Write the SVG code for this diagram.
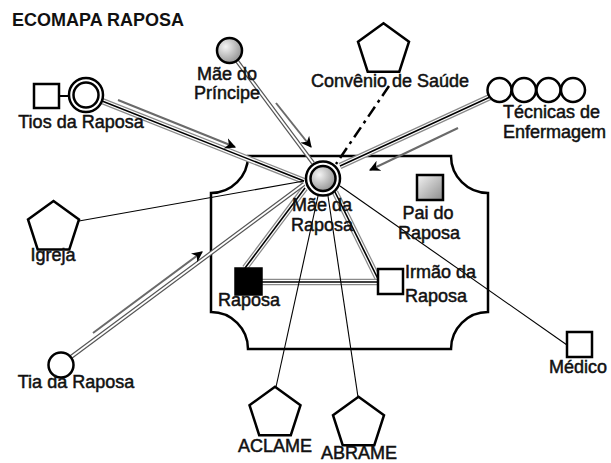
<svg xmlns="http://www.w3.org/2000/svg" xmlns:xlink="http://www.w3.org/1999/xlink" width="611" height="463" viewBox="0 0 611 463">
<style>
text{font-family:"Liberation Sans",Arial,sans-serif;font-size:18px;fill:#111;stroke:#111;stroke-width:0.5}
.title{font-weight:bold;font-size:18px;stroke:none}
.c{text-anchor:middle}
.shape{fill:#fff;stroke:#000;stroke-width:2.5}
.g1{fill:none;stroke:#8a8a8a;stroke-width:6.5}
.g2{fill:none;stroke:#fff;stroke-width:4}
.g3{fill:none;stroke:#000;stroke-width:1.6}
.d1{fill:none;stroke:#555;stroke-width:4.2}
.d2{fill:none;stroke:#fff;stroke-width:1.8}
.thin{fill:none;stroke:#000;stroke-width:1.1}
.arr{fill:none;stroke:#6a6a6a;stroke-width:2;marker-end:url(#ah)}
.dash{fill:none;stroke:#000;stroke-width:2.5;stroke-dasharray:12 5 3 5}
</style>
<defs>
<radialGradient id="gr" cx="0.35" cy="0.35" r="0.75">
<stop offset="0" stop-color="#f4f4f4"/>
<stop offset="1" stop-color="#8c8c8c"/>
</radialGradient>
<linearGradient id="gl" x1="0" y1="0" x2="1" y2="1">
<stop offset="0" stop-color="#f4f4f4"/>
<stop offset="1" stop-color="#8c8c8c"/>
</linearGradient>
<polygon id="pent" points="0,-26.8 25.5,-8.3 15.8,21.7 -15.8,21.7 -25.5,-8.3"/>
<marker id="ah" viewBox="0 0 10 10" refX="9" refY="5" markerWidth="5.5" markerHeight="5.5" orient="auto" markerUnits="strokeWidth">
<path d="M0,0 L10,5 L0,10 L3,5 Z" fill="#000"/>
</marker>
<path id="pTios" d="M102,101 L304,181"/>
<path id="pTec" d="M490,97 L340,166"/>
<path id="pRap" d="M305,188 L245,268"/>
<path id="pIrm" d="M335,192 L379,281"/>
<path id="pRI" d="M262,282 L378,282"/>
<path id="pPri" d="M237,61 L313,163"/>
<path id="pTia" d="M71,357 L304,184"/>
</defs>
<g id="household">
<path class="shape" style="fill:none" d="M248,156 L451,156 A37,37 0 0 0 488,193 L488,312 A37,37 0 0 0 451,349 L248,349 A37,37 0 0 0 211,312 L211,193 A37,37 0 0 0 248,156 Z"/>
</g>
<g id="connectors">
<use href="#pTios" class="g1"/><use href="#pTios" class="g2"/><use href="#pTios" class="g3"/>
<use href="#pTec" class="g1"/><use href="#pTec" class="g2"/><use href="#pTec" class="g3"/>
<use href="#pRap" class="g1"/><use href="#pRap" class="g2"/><use href="#pRap" class="g3"/>
<use href="#pIrm" class="g1"/><use href="#pIrm" class="g2"/><use href="#pIrm" class="g3"/>
<use href="#pRI" class="g1"/><use href="#pRI" class="g2"/><use href="#pRI" class="g3"/>
<use href="#pPri" class="d1"/><use href="#pPri" class="d2"/>
<use href="#pTia" class="d1"/><use href="#pTia" class="d2"/>
<line class="thin" x1="59" y1="96" x2="69" y2="96" style="stroke-width:2"/>
<line class="thin" x1="79" y1="221" x2="304" y2="181"/>
<line class="thin" x1="318" y1="196" x2="276" y2="387"/>
<line class="thin" x1="328" y1="196" x2="358" y2="397"/>
<line class="thin" x1="340" y1="186" x2="567" y2="345"/>
<line class="dash" x1="389" y1="86" x2="336" y2="164"/>
<line class="arr" x1="118" y1="100" x2="235" y2="147"/>
<line class="arr" x1="276" y1="103" x2="311" y2="147"/>
<line class="arr" x1="458" y1="128" x2="370" y2="170"/>
<line class="arr" x1="93" y1="333" x2="202" y2="252"/>
</g>
<text class="title" x="12" y="26">ECOMAPA RAPOSA</text>
<g id="tios">
<rect class="shape" x="34" y="84" width="25" height="24"/>
<circle class="shape" cx="86" cy="95" r="17"/>
<circle class="shape" cx="86" cy="95" r="12.5"/>
<text class="c" x="81" y="128">Tios da Raposa</text>
</g>
<g id="mae-principe">
<circle class="shape" cx="229.5" cy="50.5" r="12.5" style="fill:url(#gr)"/>
<text class="c" x="227" y="80">Mãe do</text>
<text class="c" x="227" y="99">Príncipe</text>
</g>
<g id="convenio">
<use href="#pent" class="shape" x="383.5" y="50"/>
<text class="c" x="390" y="87">Convênio de Saúde</text>
</g>
<g id="tecnicas">
<circle class="shape" cx="499.5" cy="90" r="12"/>
<circle class="shape" cx="524" cy="90" r="12"/>
<circle class="shape" cx="548.5" cy="90" r="12"/>
<circle class="shape" cx="573" cy="90" r="12"/>
<text x="503" y="118">Técnicas de</text>
<text x="503" y="138">Enfermagem</text>
</g>
<g id="mae-raposa">
<circle class="shape" cx="323" cy="178.5" r="17"/>
<circle class="shape" cx="323" cy="178.5" r="12.5" style="fill:url(#gr)"/>
<text class="c" x="322" y="211">Mãe da</text>
<text class="c" x="322" y="231">Raposa</text>
</g>
<g id="pai">
<rect class="shape" x="417" y="175" width="26" height="25" style="fill:url(#gl)"/>
<text class="c" x="428" y="219">Pai do</text>
<text class="c" x="429" y="239">Raposa</text>
</g>
<g id="raposa">
<rect x="235" y="268" width="27" height="27" fill="#000" stroke="#000" stroke-width="1.5"/>
<text class="c" x="249" y="306">Raposa</text>
</g>
<g id="irmao">
<rect class="shape" x="378" y="269" width="25" height="25"/>
<text x="405" y="278">Irmão da</text>
<text x="405" y="302">Raposa</text>
</g>
<g id="igreja">
<use href="#pent" class="shape" x="53.5" y="227.8"/>
<text class="c" x="53" y="261">Igreja</text>
</g>
<g id="tia">
<circle class="shape" cx="61" cy="365" r="12.5"/>
<text class="c" x="76" y="388">Tia da Raposa</text>
</g>
<g id="aclame">
<use href="#pent" class="shape" x="275" y="413.5"/>
<text class="c" x="275" y="452">ACLAME</text>
</g>
<g id="abrame">
<use href="#pent" class="shape" x="358.5" y="423.5"/>
<text class="c" x="359" y="459">ABRAME</text>
</g>
<g id="medico">
<rect class="shape" x="567" y="332" width="25" height="25"/>
<text class="c" x="578" y="373">Médico</text>
</g>
</svg>
